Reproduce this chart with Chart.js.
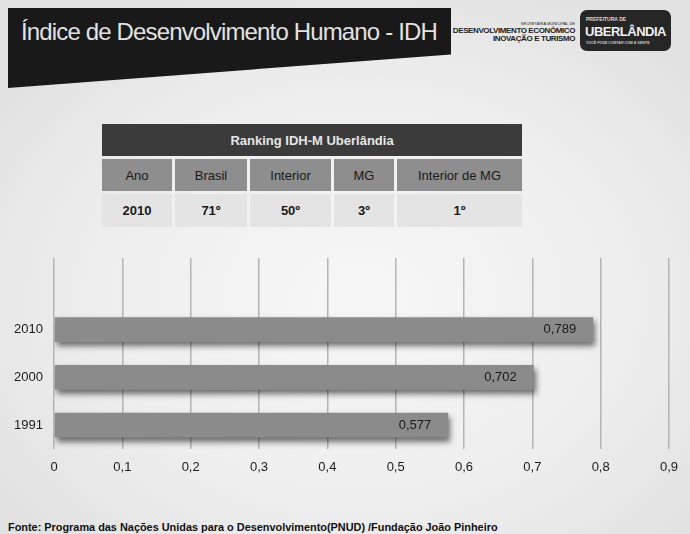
<!DOCTYPE html>
<html><head><meta charset="utf-8">
<script src="https://cdn.jsdelivr.net/npm/chart.js@4"></script>
<style>
html,body{margin:0;padding:0;}
body{width:690px;height:534px;position:relative;overflow:hidden;font-family:"Liberation Sans",Arial,sans-serif;
background:radial-gradient(ellipse 440px 340px at 360px 300px,#f7f7f7 0%,#eeeeee 60%,#e2e2e2 100%);}
#band{position:absolute;left:8px;top:8px;width:443px;height:80px;background:#191919;clip-path:polygon(0 0,100% 0,100% 58%,0 100%);}
#title{position:absolute;left:21px;top:18px;font-size:24px;letter-spacing:-0.85px;color:#e2e2e2;white-space:nowrap;}
.sm{position:absolute;white-space:nowrap;color:#222;font-weight:bold;}
#logo{position:absolute;left:580px;top:10px;width:91px;height:41px;background:#262626;border-radius:7px;}
#tbl{position:absolute;left:102px;top:124px;}
.c{position:absolute;display:flex;align-items:center;justify-content:center;font-size:13px;color:#1a1a1a;white-space:nowrap;}
#foot{position:absolute;left:8px;top:521px;font-size:10.9px;font-weight:bold;color:#111;white-space:nowrap;}
canvas{position:absolute;left:0;top:0;}
</style></head>
<body>
<div id="band"></div>
<div id="title">Índice de Desenvolvimento Humano - IDH</div>
<div class="sm" style="right:115px;top:21px;font-size:4px;font-weight:normal;">SECRETARIA MUNICIPAL DE</div>
<div class="sm" style="right:115px;top:26px;font-size:8px;letter-spacing:-0.4px;">DESENVOLVIMENTO ECONÔMICO</div>
<div class="sm" style="right:115px;top:34px;font-size:8px;letter-spacing:-0.4px;">INOVAÇÃO E TURISMO</div>
<div id="logo">
  <div class="sm" style="left:6px;top:6px;font-size:5px;color:#ddd;">PREFEITURA DE</div>
  <div class="sm" style="left:5px;top:14px;font-size:13px;color:#f0f0f0;letter-spacing:-0.5px;">UBERLÂNDIA</div>
  <div class="sm" style="left:6px;top:31px;font-size:3.6px;color:#ccc;">VOCÊ PODE CONTAR COM A GENTE</div>
</div>
<div id="tbl"></div>
<div id="foot">Fonte: Programa das Nações Unidas para o Desenvolvimento(PNUD) /Fundação João Pinheiro</div>
<canvas id="c" width="690" height="534"></canvas>
<script>
// Table data
const tableTitle = "Ranking IDH-M Uberlândia";
const tableHeaders = ["Ano", "Brasil", "Interior", "MG", "Interior de MG"];
const tableRow = ["2010", "71º", "50º", "3º", "1º"];

// Chart data
const categories = ["", "2010", "2000", "1991"];
const idhValues = [null, 0.789, 0.702, 0.577];
const xTickValues = [0, 0.1, 0.2, 0.3, 0.4, 0.5, 0.6, 0.7, 0.8, 0.9];

// Build table
(function(){
  const t = document.getElementById('tbl');
  const colW = [70, 72, 81, 60, 125];
  const gap = 3;
  const total = colW.reduce((a,b)=>a+b,0) + gap*(colW.length-1);
  function cell(txt, x, y, w, h, bg, style){
    const d = document.createElement('div');
    d.className = 'c';
    d.style.left = x+'px'; d.style.top = y+'px'; d.style.width = w+'px'; d.style.height = h+'px';
    d.style.background = bg;
    Object.assign(d.style, style||{});
    d.textContent = txt;
    t.appendChild(d);
  }
  cell(tableTitle, 0, 0, total, 32, '#3b3b3b', {color:'#e6e6e6', fontWeight:'bold'});
  let x = 0;
  tableHeaders.forEach((h,i)=>{
    cell(h, x, 35, colW[i], 32, '#8e8e8e', {});
    cell(tableRow[i], x, 70, colW[i], 33, '#e4e4e4', {fontWeight:'bold'});
    x += colW[i] + gap;
  });
})();

const shadowPlugin = {
  id: 'barShadow',
  beforeDatasetDraw(chart){
    const ctx = chart.ctx;
    ctx.save();
    ctx.shadowColor = 'rgba(0,0,0,0.55)';
    ctx.shadowBlur = 6;
    ctx.shadowOffsetX = 2;
    ctx.shadowOffsetY = 4;
  },
  afterDatasetDraw(chart){ chart.ctx.restore(); }
};

const labelPlugin = {
  id: 'valueLabels',
  afterDatasetsDraw(chart){
    const ctx = chart.ctx;
    const meta = chart.getDatasetMeta(0);
    ctx.save();
    ctx.font = '13px "Liberation Sans", Arial, sans-serif';
    ctx.fillStyle = '#1a1a1a';
    ctx.textAlign = 'right';
    ctx.textBaseline = 'middle';
    meta.data.forEach((bar, i) => {
      const v = idhValues[i];
      if (v === null) return;
      ctx.fillText(v.toFixed(3).replace('.', ','), bar.x - 17, bar.y);
    });
    ctx.restore();
  }
};

const fmt = v => (Math.round(v*10)/10).toString().replace('.', ',');

new Chart(document.getElementById('c'), {
  type: 'bar',
  data: {
    labels: categories,
    datasets: [{
      data: idhValues,
      backgroundColor: '#8b8b8b',
      borderWidth: 0,
      categoryPercentage: 1,
      barPercentage: 0.52
    }]
  },
  options: {
    indexAxis: 'y',
    responsive: false,
    animation: false,
    events: [],
    layout: { padding: { left: 0, right: 21, top: 258, bottom: 55 } },
    plugins: { legend: { display: false }, tooltip: { enabled: false } },
    scales: {
      x: {
        min: 0, max: 0.9,
        afterBuildTicks(s){ s.ticks = xTickValues.map(v => ({ value: v })); },
        afterFit(s){ s.height = 30; },
        grid: { color: '#b4b4b4', lineWidth: 1.5, drawTicks: false },
        border: { display: false },
        ticks: { padding: 11, color: '#1a1a1a', font: { size: 13, family: '"Liberation Sans", Arial, sans-serif' }, callback: v => fmt(v) }
      },
      y: {
        afterFit(s){ s.width = 54; },
        grid: { display: false, drawTicks: false },
        border: { display: false },
        ticks: { padding: 11, color: '#1a1a1a', font: { size: 13, family: '"Liberation Sans", Arial, sans-serif' } }
      }
    }
  },
  plugins: [shadowPlugin, labelPlugin]
});
</script>
</body></html>
